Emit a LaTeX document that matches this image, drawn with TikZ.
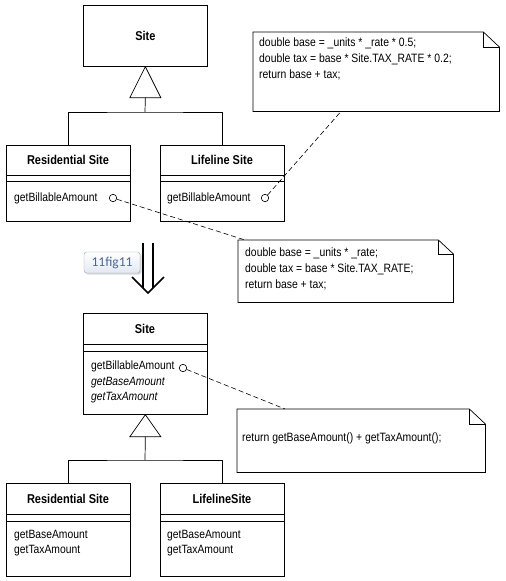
\documentclass[tikz,border=0pt]{standalone}
\usepackage{fontspec}
\setmainfont{Liberation Sans}[FakeStretch=0.86]
\newfontfamily\labfont{Carlito}
\usetikzlibrary{shadows}
\definecolor{labtext}{HTML}{4A6896}
\definecolor{labedge}{HTML}{9AA3B5}
\definecolor{labfill}{HTML}{E3E8F3}
\begin{document}
\begin{tikzpicture}[x=1pt,y=-1pt,
  every node/.style={font=\fontsize{12}{15.5}\selectfont},
  cls/.style={draw, line width=0.7pt, inner sep=0pt, anchor=north west},
  ttl/.style={font=\fontsize{12.8}{14}\selectfont\bfseries, inner sep=0pt},
  op/.style={anchor=west, inner sep=0pt, align=left, font=\fontsize{12}{15.5}\selectfont},
  dot/.style={circle, draw, line width=0.6pt, inner sep=0pt, minimum size=7.5pt, fill=white},
  notebox/.style={inner sep=0pt, anchor=north west},
  notetxt/.style={anchor=north west, inner sep=0pt, align=left, font=\fontsize{12.1}{15.8}\selectfont},
  gen/.style={line width=0.7pt},
  link/.style={line width=0.6pt, dash pattern=on 5pt off 3pt}
]
\useasboundingbox (0,0) rectangle (506,581);

% ---------- top diagram ----------
\node[cls, minimum width=124pt, minimum height=61pt, font=\fontsize{12.8}{14}\selectfont\bfseries] (site1) at (83,5) {Site};

\node[cls, minimum width=124pt, minimum height=76pt] (res1) at (6,145) {};
\draw[gen] ([yshift=-30pt]res1.north west) -- ([yshift=-30pt]res1.north east);
\draw[gen] ([yshift=-36pt]res1.north west) -- ([yshift=-36pt]res1.north east);
\node[ttl] (res1t) at (68,160) {Residential Site};
\node[op] (res1o) at (14,198) {getBillableAmount};

\node[cls, minimum width=124pt, minimum height=76pt] (life1) at (160,145) {};
\draw[gen] ([yshift=-30pt]life1.north west) -- ([yshift=-30pt]life1.north east);
\draw[gen] ([yshift=-36pt]life1.north west) -- ([yshift=-36pt]life1.north east);
\node[ttl] (life1t) at (222,160) {Lifeline Site};
\node[op] (life1o) at (167,198) {getBillableAmount};

\draw[gen] (site1.south) -- ++(-15.5,31) coordinate (g1a) -- ++(31,0) -- cycle;
\coordinate (g1) at ([xshift=15.5pt]g1a);
\coordinate (j1) at (145,112);
\draw[gen] (g1) -- (j1);
\draw[gen] (res1.north) |- (j1) -| (life1.north);

\node[dot] (c1) at (113,198) {};
\node[dot] (c2) at (265,198) {};

% note 1
\node[notebox, minimum width=246pt, minimum height=79pt] (n1) at (253,32) {};
\draw[gen, fill=white] (n1.north west) -- ([xshift=-16pt]n1.north east) -- ([yshift=-15pt]n1.north east) -- (n1.south east) -- (n1.south west) -- cycle;
\draw[gen] ([xshift=-16pt]n1.north east) |- ([yshift=-15pt]n1.north east);
\node[notetxt] (n1t) at (259,38) {double base = \_units * \_rate * 0.5;\\double tax = base * Site.TAX\_RATE * 0.2;\\return base + tax;};

% note 2
\node[notebox, minimum width=215pt, minimum height=62pt] (n2) at (238,240) {};
\draw[gen, fill=white] (n2.north west) -- ([xshift=-15pt]n2.north east) -- ([yshift=-14pt]n2.north east) -- (n2.south east) -- (n2.south west) -- cycle;
\draw[gen] ([xshift=-15pt]n2.north east) |- ([yshift=-14pt]n2.north east);
\node[notetxt] (n2t) at (245,248) {double base = \_units * \_rate;\\double tax = base * Site.TAX\_RATE;\\return base + tax;};

\draw[link] (c2) -- ([xshift=88pt]n1.south west);
\draw[link] (c1) -- ([xshift=7pt]n2.north west);

% ---------- refactoring arrow ----------
\coordinate (a1) at (143,243);
\coordinate (a2) at (153,243);
\coordinate (vl) at (132,277);
\coordinate (vt) at (148,293);
\coordinate (vr) at (164,277);
\draw[line width=1.5pt] (a1) -- (143,288);
\draw[line width=1.5pt] (a2) -- (153,288);
\draw[line width=1.5pt] (vl) -- (vt) -- (vr);
\node[draw=labedge, rounded corners=2.5pt, top color=white, bottom color=labfill,
      drop shadow={shadow xshift=1.5pt, shadow yshift=-1.5pt, opacity=0.3},
      minimum width=56pt, minimum height=21pt, inner sep=0pt,
      text=labtext, font=\labfont\fontsize{13.5}{15}\selectfont] (lab) at (112,262.5) {11fig11};

% ---------- bottom diagram ----------
\node[cls, minimum width=124pt, minimum height=101pt] (site2) at (83,313) {};
\draw[gen] ([yshift=-31pt]site2.north west) -- ([yshift=-31pt]site2.north east);
\draw[gen] ([yshift=-38pt]site2.north west) -- ([yshift=-38pt]site2.north east);
\node[ttl] (site2t) at (145,329) {Site};
\node[op, anchor=north west] (site2o) at (91,361) {getBillableAmount\\\itshape getBaseAmount\\\itshape getTaxAmount};
\node[dot] (c3) at (183,368) {};

\node[cls, minimum width=124pt, minimum height=93pt] (res2) at (6,483) {};
\draw[gen] ([yshift=-31pt]res2.north west) -- ([yshift=-31pt]res2.north east);
\draw[gen] ([yshift=-38pt]res2.north west) -- ([yshift=-38pt]res2.north east);
\node[ttl] (res2t) at (68,499) {Residential Site};
\node[op, anchor=north west] (res2o) at (14,530) {getBaseAmount\\getTaxAmount};

\node[cls, minimum width=124pt, minimum height=93pt] (life2) at (160,483) {};
\draw[gen] ([yshift=-31pt]life2.north west) -- ([yshift=-31pt]life2.north east);
\draw[gen] ([yshift=-38pt]life2.north west) -- ([yshift=-38pt]life2.north east);
\node[ttl] (life2t) at (222,499) {LifelineSite};
\node[op, anchor=north west] (life2o) at (167,530) {getBaseAmount\\getTaxAmount};

\draw[gen] (site2.south) -- ++(-15.5,22) coordinate (g2a) -- ++(31,0) -- cycle;
\coordinate (g2) at ([xshift=15.5pt]g2a);
\coordinate (j2) at (145,460);
\draw[gen] (g2) -- (j2);
\draw[gen] (res2.north) |- (j2) -| (life2.north);

% note 3
\node[notebox, minimum width=248pt, minimum height=63pt] (n3) at (237,409) {};
\draw[gen, fill=white] (n3.north west) -- ([xshift=-16pt]n3.north east) -- ([yshift=-15pt]n3.north east) -- (n3.south east) -- (n3.south west) -- cycle;
\draw[gen] ([xshift=-16pt]n3.north east) |- ([yshift=-15pt]n3.north east);
\node[notetxt, anchor=west] (n3t) at (242,438) {return getBaseAmount() + getTaxAmount();};

\draw[link] (c3) -- ([xshift=48pt]n3.north west);
\end{tikzpicture}
\end{document}
